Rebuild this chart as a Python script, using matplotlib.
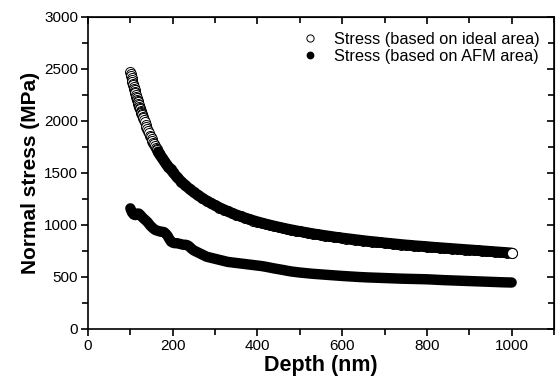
import matplotlib
matplotlib.use("Agg")
import matplotlib.pyplot as plt
from matplotlib.ticker import MultipleLocator

plt.rcParams['font.family'] = ['Liberation Sans', 'DejaVu Sans']

# ideal-area stress
depth_ideal = (list(range(100, 131)) + list(range(132, 171, 2))
               + list(range(175, 201, 5)) + list(range(210, 1001, 10)))
stress_ideal = [2470, 2450, 2430, 2412, 2395, 2378, 2360, 2342, 2325, 2310,
                2295, 2280, 2265, 2250, 2235, 2220, 2205, 2192, 2180, 2165,
                2150, 2137, 2125, 2112, 2100, 2087, 2075, 2065, 2055, 2042, 2030,
                2008, 1986, 1964, 1942, 1920, 1900, 1880, 1860, 1842, 1825,
                1808, 1792, 1776, 1760, 1745, 1731, 1717, 1703, 1689, 1675,
                1645, 1615, 1585, 1560, 1535, 1510,
                1460, 1418, 1380, 1346, 1314, 1285, 1258, 1233, 1210, 1188,
                1168, 1149, 1131, 1114, 1098, 1083, 1069, 1056, 1043, 1031,
                1020, 1009, 999, 989, 980, 971, 962, 954, 946, 938,
                931, 924, 917, 910, 904, 898, 892, 886, 880, 875,
                870, 865, 860, 855, 850, 845, 841, 837, 832, 828,
                824, 820, 816, 812, 808, 805, 801, 798, 795, 792,
                788, 785, 782, 779, 776, 773, 770, 767, 764, 761,
                758, 755, 752, 749, 746, 743, 740, 737, 734, 731]

# AFM-area stress
depth_afm = ([100, 104, 108, 112, 116, 120, 124, 128, 132, 136, 140, 144, 148, 152, 156, 160,
              164, 168, 172, 176, 180, 184, 188, 192, 196]
             + list(range(200, 300, 5)) + list(range(300, 600, 10)) + list(range(600, 1001, 20)))
stress_afm = [1160, 1120, 1100, 1095, 1110, 1110, 1095, 1075, 1060, 1045, 1030, 1010, 990, 975, 960, 950,
              945, 940, 935, 935, 930, 915, 895, 865, 840,
              830, 825, 825, 820, 815, 810, 810, 805, 790, 770, 755, 745, 735, 725, 715, 705, 695, 690, 685, 680,
              675, 665, 655, 645, 640, 635, 630, 625, 620, 615,
              610, 605, 598, 590, 582, 575, 568, 560, 553, 548,
              543, 539, 535, 531, 528, 525, 522, 519, 516, 513,
              510, 505, 500, 496, 493, 490, 487, 484, 482, 480,
              478, 474, 470, 467, 464, 461, 458, 455, 452, 449, 447]

fig = plt.figure(figsize=(5.57, 3.82), dpi=100)
ax = fig.add_axes([88 / 557, 53 / 382, 466 / 557, 312 / 382])

ms = 7.2
# open circles for the ideal area; dense part drawn as a solid band
ax.plot(depth_ideal, stress_ideal, 'o', ms=ms, mfc='white', mec='black', mew=0.7, zorder=3)
n0 = 48
ax.plot(depth_ideal[n0:], stress_ideal[n0:], '-', color='black', lw=ms + 0.6,
        solid_capstyle='round', zorder=4)
ax.plot(depth_ideal[-1:], stress_ideal[-1:], 'o', ms=ms, mfc='white', mec='black', mew=0.7, zorder=5)
ax.plot([], [], 'o', ms=5.2, mfc='white', mec='black', mew=0.7,
        label='Stress (based on ideal area)')

ax.plot(depth_afm, stress_afm, '-', color='black', lw=ms + 0.3,
        solid_capstyle='round', solid_joinstyle='round', zorder=3)
ax.plot([], [], 'o', ms=4.6, color='black', label='Stress (based on AFM area)')

ax.set_xlim(0, 1100)
ax.set_ylim(0, 3000)
ax.xaxis.set_major_locator(MultipleLocator(200))
ax.xaxis.set_minor_locator(MultipleLocator(100))
ax.yaxis.set_major_locator(MultipleLocator(500))
ax.yaxis.set_minor_locator(MultipleLocator(250))
ax.set_xticks([0, 200, 400, 600, 800, 1000])

ax.tick_params(which='both', direction='out', labelsize=11, width=1.2, pad=2)
ax.tick_params(which='major', length=5)
ax.tick_params(which='minor', length=4)
for sp in ax.spines.values():
    sp.set_linewidth(1.2)

# mirrored inward ticks on top and right
axt = ax.secondary_xaxis('top')
axt.xaxis.set_major_locator(MultipleLocator(200))
axt.xaxis.set_minor_locator(MultipleLocator(100))
axt.tick_params(which='both', direction='in', labeltop=False, width=1.2)
axt.tick_params(which='major', length=5)
axt.tick_params(which='minor', length=4)
axr = ax.secondary_yaxis('right')
axr.yaxis.set_major_locator(MultipleLocator(500))
axr.yaxis.set_minor_locator(MultipleLocator(250))
axr.tick_params(which='both', direction='in', labelright=False, width=1.2)
axr.tick_params(which='major', length=5)
axr.tick_params(which='minor', length=4)

ax.set_xlabel('Depth (nm)', fontsize=15.5, fontweight='bold', labelpad=2)
ax.set_ylabel('Normal stress (MPa)', fontsize=15, fontweight='bold', labelpad=3)

ax.legend(loc='upper right', frameon=False, fontsize=11.8, handletextpad=0.7,
          borderaxespad=0.5, labelspacing=0.15, handlelength=1.5)

fig.savefig('out.png', dpi=100)
